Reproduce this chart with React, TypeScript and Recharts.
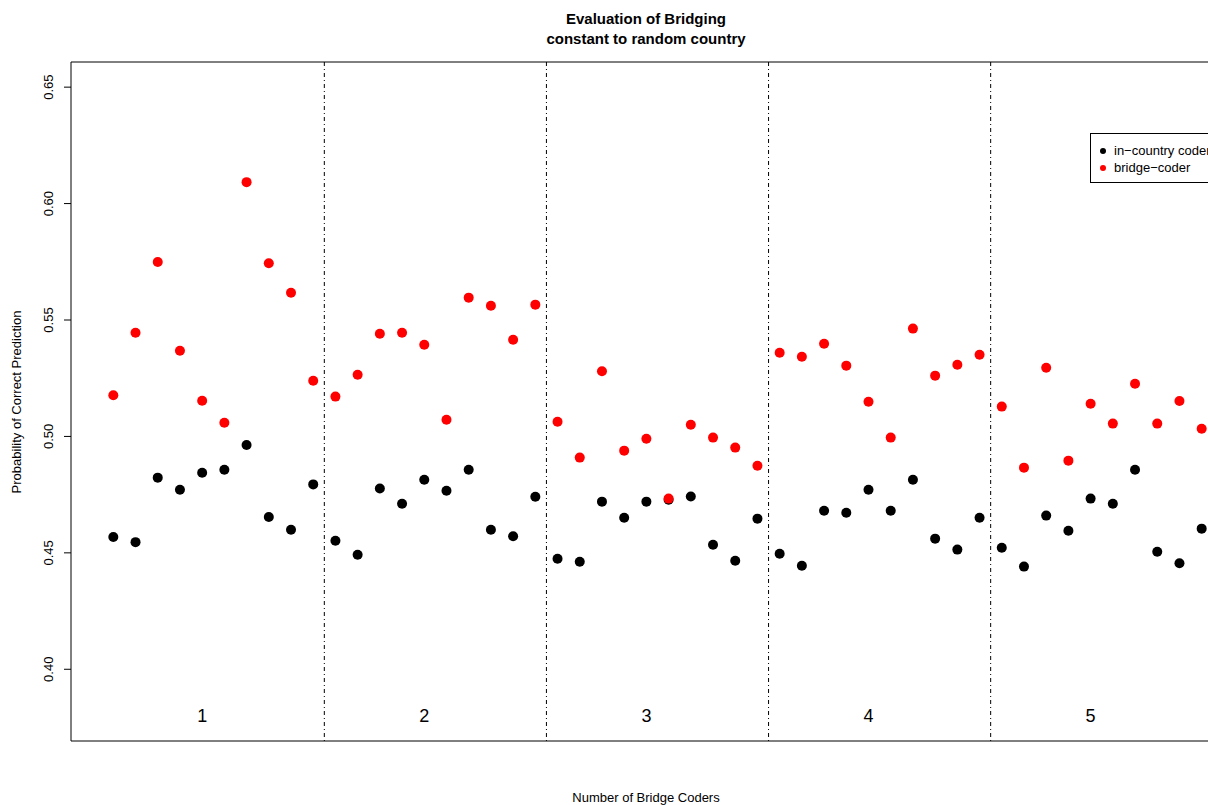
import React from 'react';
import { ScatterChart, Scatter, XAxis, YAxis, ReferenceLine, ReferenceArea } from 'recharts';

// Probability of correct prediction, 50 runs (5 groups of 10)
const inCountry = [
  0.4568, 0.4546, 0.4823, 0.4771, 0.4844, 0.4857, 0.4963, 0.4654, 0.4599, 0.4794,
  0.4552, 0.4492, 0.4776, 0.4711, 0.4814, 0.4767, 0.4857, 0.4599, 0.4571, 0.4741,
  0.4475, 0.4462, 0.4720, 0.4651, 0.4720, 0.4728, 0.4742, 0.4535, 0.4466, 0.4647,
  0.4496, 0.4445, 0.4681, 0.4672, 0.4771, 0.4681, 0.4814, 0.4561, 0.4514, 0.4651,
  0.4522, 0.4441, 0.4660, 0.4595, 0.4733, 0.4711, 0.4857, 0.4505, 0.4455, 0.4604,
];

const bridgeCoder = [
  0.5177, 0.5445, 0.5749, 0.5368, 0.5153, 0.5059, 0.6092, 0.5744, 0.5617, 0.5239,
  0.5171, 0.5265, 0.5441, 0.5445, 0.5394, 0.5072, 0.5596, 0.5561, 0.5415, 0.5566,
  0.5063, 0.4909, 0.5280, 0.4939, 0.4990, 0.4733, 0.5050, 0.4995, 0.4952, 0.4874,
  0.5359, 0.5342, 0.5398, 0.5304, 0.5149, 0.4995, 0.5463, 0.5261, 0.5308, 0.5351,
  0.5128, 0.4866, 0.5295, 0.4896, 0.5140, 0.5055, 0.5226, 0.5055, 0.5152, 0.5033,
];

const groupNames = ['1', '2', '3', '4', '5'];
const groupCenters = [5, 15, 25, 35, 45];
const groupDividers = [10.5, 20.5, 30.5, 40.5];
const yTicks = [0.4, 0.45, 0.5, 0.55, 0.6, 0.65];

const X_DOMAIN: [number, number] = [-0.905, 50.87];
const Y_DOMAIN: [number, number] = [0.3692, 0.6608];
const LABEL_Y = 0.38;

const inCountryData = inCountry.map((v, i) => ({ x: i + 1, y: v }));
const bridgeData = bridgeCoder.map((v, i) => ({ x: i + 1, y: v }));
const groupLabelData = groupNames.map((name, i) => ({ x: groupCenters[i], y: LABEL_Y, name }));

const FONT = '"Liberation Sans", Arial, Helvetica, sans-serif';

const dot = (color: string) => (props: any) => (
  <circle cx={props.cx} cy={props.cy} r={5} fill={color} />
);

const groupText = (props: any) => (
  <text x={props.cx} y={props.cy} dy="0.35em" textAnchor="middle" fontSize={18} fill="#000" fontFamily={FONT}>
    {props.payload.name}
  </text>
);

const yTick = (props: any) => {
  const { y, payload } = props;
  return (
    <text transform={`translate(53,${y}) rotate(-90)`} textAnchor="middle" fontSize={13} fill="#000" fontFamily={FONT}>
      {payload.value.toFixed(2)}
    </text>
  );
};

const App = () => {
  return (
    <div style={{ position: 'absolute', left: 0, top: 0, width: 1208, height: 805, overflow: 'hidden', background: '#fff', fontFamily: FONT }}>
      <div style={{ position: 'absolute', left: 446, width: 400, top: 9, textAlign: 'center', fontWeight: 'bold', fontSize: 15, lineHeight: '20px', color: '#000' }}>
        Evaluation of Bridging<br />constant to random country
      </div>
      <div style={{ position: 'absolute', left: 446, width: 400, top: 790, textAlign: 'center', fontSize: 13, color: '#000' }}>
        Number of Bridge Coders
      </div>
      <div style={{ position: 'absolute', left: 17 - 150, top: 402 - 9, width: 300, height: 18, lineHeight: '18px', textAlign: 'center', fontSize: 13, transform: 'rotate(-90deg)', color: '#000' }}>
        Probability of Correct Prediction
      </div>

      <ScatterChart width={1240} height={805} margin={{ top: 62, right: 19, bottom: 64, left: 11 }}>
        <XAxis type="number" dataKey="x" domain={X_DOMAIN} allowDataOverflow hide height={0} />
        <YAxis
          type="number"
          dataKey="y"
          domain={Y_DOMAIN}
          allowDataOverflow
          ticks={yTicks}
          width={60}
          axisLine={false}
          tickLine={{ stroke: '#000' }}
          tickSize={7}
          tick={yTick}
        />
        <ReferenceArea x1={X_DOMAIN[0]} x2={X_DOMAIN[1]} y1={Y_DOMAIN[0]} y2={Y_DOMAIN[1]} fill="none" stroke="#000" strokeWidth={1} fillOpacity={0} />
        {groupDividers.map((d) => (
          <ReferenceLine key={d} x={d} stroke="#000" strokeWidth={1} strokeDasharray="1 3 4 3" />
        ))}
        <Scatter data={inCountryData} shape={dot('#000000')} isAnimationActive={false} />
        <Scatter data={bridgeData} shape={dot('#ff0000')} isAnimationActive={false} />
        <Scatter data={groupLabelData} shape={groupText} isAnimationActive={false} />
      </ScatterChart>

      <div style={{ position: 'absolute', left: 1090, top: 133, width: 140, height: 50, border: '1px solid #000', boxSizing: 'border-box', background: '#fff', fontSize: 13, color: '#000' }}>
        <div style={{ position: 'absolute', left: 23, top: 8, whiteSpace: 'nowrap', lineHeight: '17px' }}>
          <div style={{ position: 'relative' }}>
            <span style={{ position: 'absolute', left: -14, top: 6, width: 6, height: 6, borderRadius: 3, background: '#000' }} />
            in−country coder
          </div>
          <div style={{ position: 'relative' }}>
            <span style={{ position: 'absolute', left: -14, top: 6, width: 6, height: 6, borderRadius: 3, background: '#ff0000' }} />
            bridge−coder
          </div>
        </div>
      </div>
    </div>
  );
};

export default App;
